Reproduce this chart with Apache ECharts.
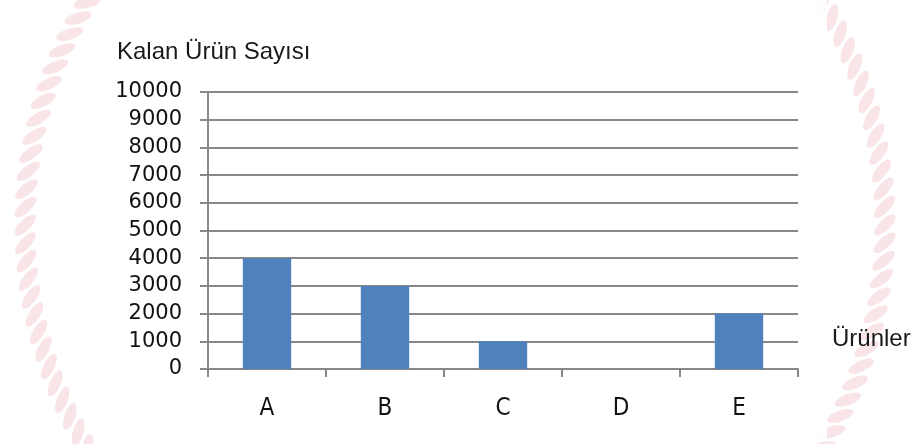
<!DOCTYPE html>
<html>
<head>
<meta charset="utf-8">
<script src="https://cdn.jsdelivr.net/npm/echarts@6/dist/echarts.min.js"></script>
<style>
  html, body { margin: 0; padding: 0; background: #fff; }
  #chart { width: 920px; height: 444px; }
</style>
</head>
<body>
<div id="chart"></div>
<script>
// veriler
var urunler = ['A', 'B', 'C', 'D', 'E'];
var kalanSayi = [4000, 3000, 1000, 0, 2000];
var yMin = 0;
var yMax = 10000;
var yStep = 1000;

// arka plandaki soluk halat (filigran) - sadece süsleme
function ropeBeads() {
    var items = [];
    var cx = 455, cy = 225, R = 430;
    var step = 18 / R;
    var ranges = [[Math.PI * 0.80, Math.PI * 1.22], [-Math.PI * 0.20, Math.PI * 0.20]];
    ranges.forEach(function (r) {
        for (var t = r[0]; t <= r[1]; t += step) {
            var x = cx + R * Math.cos(t);
            var y = cy + R * Math.sin(t);
            var tangent = -t + Math.PI / 2;
            items.push({
                type: 'circle',
                z: -20,
                silent: true,
                x: x,
                y: y,
                rotation: tangent - Math.PI / 4,
                scaleX: 14,
                scaleY: 5.5,
                shape: { cx: 0, cy: 0, r: 1 },
                style: { fill: 'rgba(236,170,178,0.3)' }
            });
        }
    });
    // grafiğin yarı saydam beyaz zemini
    items.push({
        type: 'rect',
        z: -10,
        silent: true,
        shape: { x: 100, y: 0, width: 727, height: 440 },
        style: { fill: 'rgba(255,255,255,0.88)' }
    });
    return items;
}

var chart = echarts.init(document.getElementById('chart'));
chart.setOption({
    backgroundColor: '#fff',
    animation: false,
    graphic: ropeBeads(),
    title: [
        {
            text: 'Kalan Ürün Sayısı',
            left: 117,
            top: 40,
            padding: 0,
            textStyle: {
                fontFamily: 'Liberation Sans, Arial, sans-serif',
                fontWeight: 'normal',
                fontSize: 24,
                color: '#1a1a1a'
            }
        },
        {
            text: 'Ürünler',
            left: 832,
            top: 327,
            padding: 0,
            textStyle: {
                fontFamily: 'Liberation Sans, Arial, sans-serif',
                fontWeight: 'normal',
                fontSize: 24,
                color: '#1a1a1a'
            }
        }
    ],
    grid: {
        left: 208,
        right: 122,
        top: 92,
        bottom: 75,
        containLabel: false
    },
    xAxis: {
        type: 'category',
        data: urunler,
        axisLine: { lineStyle: { color: '#888', width: 2 } },
        axisTick: { show: true, length: 8, alignWithLabel: false, lineStyle: { color: '#888', width: 2 } },
        axisLabel: {
            margin: 28,
            fontFamily: 'DejaVu Sans Condensed, DejaVu Sans, sans-serif',
            fontSize: 24,
            color: '#111'
        },
        splitLine: { show: false }
    },
    yAxis: {
        type: 'value',
        min: yMin,
        max: yMax,
        interval: yStep,
        axisLine: { show: true, lineStyle: { color: '#888', width: 2 } },
        axisTick: { show: true, length: 8, lineStyle: { color: '#888', width: 2 } },
        axisLabel: {
            margin: 26,
            fontFamily: 'DejaVu Sans, sans-serif',
            fontSize: 21,
            color: '#111',
            formatter: function (v) { return String(v); }
        },
        splitLine: { show: true, lineStyle: { color: '#888', width: 2 } }
    },
    series: [
        {
            name: 'Kalan Ürün Sayısı',
            type: 'bar',
            data: kalanSayi,
            barWidth: '41%',
            itemStyle: { color: '#4f81bd' }
        }
    ]
});
</script>
</body>
</html>
